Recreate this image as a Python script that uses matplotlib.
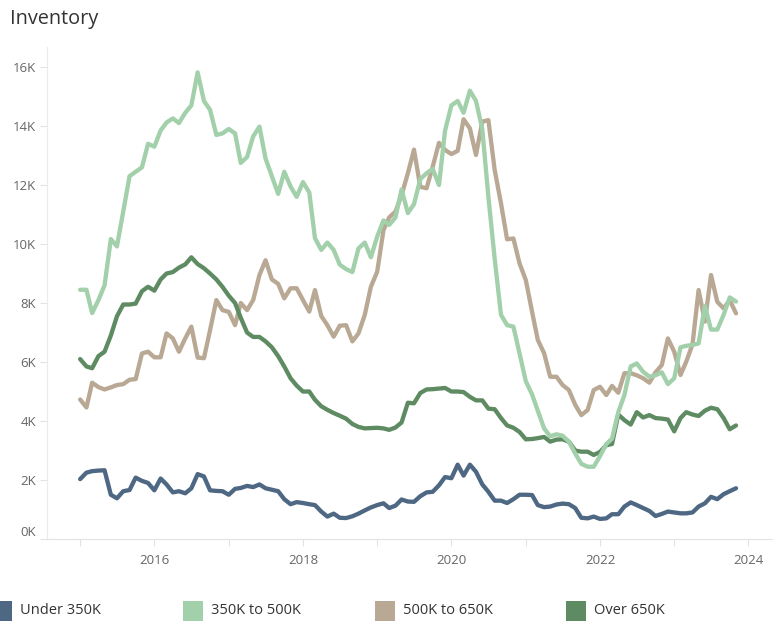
import numpy as np
import pandas as pd
import matplotlib
matplotlib.use("Agg")
import matplotlib.pyplot as plt
import matplotlib.dates as mdates
from matplotlib.patches import Rectangle
from matplotlib.ticker import FuncFormatter

plt.rcParams["font.family"] = ["Open Sans", "DejaVu Sans"]

# monthly inventory, Jan 2015 .. Nov 2023 (thousands)
months = pd.date_range("2015-01-01", periods=107, freq="MS")

under_350 = [
    2.03, 2.25, 2.30, 2.32, 2.33, 1.50, 1.38, 1.62, 1.66, 2.08,
    1.97, 1.90, 1.65, 2.05, 1.85, 1.58, 1.62, 1.55, 1.72, 2.20,
    2.12, 1.65, 1.63, 1.62, 1.50, 1.70, 1.73, 1.80, 1.76, 1.85,
    1.72, 1.67, 1.62, 1.35, 1.18, 1.25, 1.22, 1.18, 1.15, 0.93,
    0.76, 0.86, 0.72, 0.71, 0.77, 0.86, 0.97, 1.07, 1.15, 1.21,
    1.05, 1.13, 1.34, 1.27, 1.26, 1.45, 1.58, 1.60, 1.82, 2.10,
    2.06, 2.52, 2.15, 2.52, 2.28, 1.85, 1.60, 1.30, 1.30, 1.22,
    1.35, 1.50, 1.50, 1.49, 1.15, 1.08, 1.10, 1.17, 1.20, 1.18,
    1.05, 0.72, 0.70, 0.76, 0.68, 0.70, 0.84, 0.84, 1.10, 1.24,
    1.15, 1.05, 0.95, 0.78, 0.85, 0.93, 0.90, 0.87, 0.87, 0.90,
    1.10, 1.21, 1.43, 1.35, 1.52, 1.62, 1.72,
]
k350_500 = [
    8.45, 8.45, 7.66, 8.10, 8.60, 10.17, 9.92, 11.10, 12.30, 12.45,
    12.60, 13.40, 13.30, 13.85, 14.12, 14.26, 14.10, 14.45, 14.70, 15.82,
    14.85, 14.55, 13.70, 13.75, 13.90, 13.75, 12.75, 12.95, 13.65, 13.98,
    12.90, 12.30, 11.70, 12.45, 11.95, 11.60, 12.10, 11.75, 10.20, 9.80,
    10.05, 9.80, 9.30, 9.15, 9.05, 9.85, 10.05, 9.55, 10.25, 10.80,
    10.65, 10.90, 11.85, 11.05, 11.35, 12.20, 12.40, 12.55, 12.00, 13.85,
    14.70, 14.85, 14.45, 15.20, 14.85, 13.90, 11.60, 9.50, 7.60, 7.25,
    7.20, 6.30, 5.35, 4.90, 4.35, 3.75, 3.48, 3.55, 3.50, 3.30,
    2.90, 2.55, 2.45, 2.45, 2.81, 3.22, 3.40, 4.30, 4.88, 5.85,
    5.95, 5.67, 5.50, 5.55, 5.65, 5.25, 5.45, 6.50, 6.55, 6.58,
    6.63, 7.90, 7.10, 7.10, 7.60, 8.19, 8.05,
]
k500_650 = [
    4.73, 4.46, 5.30, 5.15, 5.07, 5.14, 5.22, 5.25, 5.40, 5.42,
    6.29, 6.35, 6.16, 6.16, 6.97, 6.80, 6.35, 6.80, 7.20, 6.15,
    6.13, 7.08, 8.10, 7.76, 7.70, 7.25, 8.00, 7.76, 8.10, 8.95,
    9.45, 8.80, 8.65, 8.16, 8.50, 8.50, 8.10, 7.71, 8.44, 7.56,
    7.25, 6.86, 7.23, 7.25, 6.70, 6.97, 7.60, 8.55, 9.06, 10.47,
    10.90, 11.10, 11.66, 12.40, 13.20, 11.94, 11.89, 12.62, 13.43, 13.19,
    13.05, 13.16, 14.23, 13.92, 13.02, 14.15, 14.20, 12.51, 11.38, 10.16,
    10.19, 9.35, 8.78, 7.70, 6.75, 6.30, 5.50, 5.50, 5.22, 5.05,
    4.55, 4.20, 4.37, 5.05, 5.16, 4.88, 5.19, 4.96, 5.62, 5.62,
    5.55, 5.45, 5.30, 5.65, 5.90, 6.80, 6.35, 5.56, 6.01, 6.60,
    8.44, 7.37, 8.95, 8.04, 7.82, 8.10, 7.65,
]
over_650 = [
    6.10, 5.85, 5.79, 6.20, 6.35, 6.90, 7.55, 7.95, 7.95, 7.98,
    8.40, 8.55, 8.42, 8.80, 9.00, 9.05, 9.20, 9.31, 9.55, 9.32,
    9.18, 9.00, 8.80, 8.55, 8.25, 8.00, 7.50, 7.00, 6.85, 6.85,
    6.70, 6.50, 6.20, 5.85, 5.45, 5.20, 5.00, 5.00, 4.72, 4.50,
    4.38, 4.27, 4.18, 4.08, 3.90, 3.80, 3.75, 3.76, 3.77, 3.75,
    3.70, 3.78, 3.95, 4.62, 4.60, 4.95, 5.07, 5.08, 5.10, 5.12,
    5.00, 5.00, 4.98, 4.82, 4.70, 4.70, 4.42, 4.40, 4.10, 3.85,
    3.77, 3.63, 3.38, 3.39, 3.42, 3.46, 3.30, 3.37, 3.38, 3.30,
    3.00, 2.96, 2.96, 2.85, 2.95, 3.18, 3.22, 4.22, 4.03, 3.88,
    4.30, 4.12, 4.20, 4.10, 4.08, 4.05, 3.65, 4.10, 4.30, 4.22,
    4.17, 4.35, 4.45, 4.40, 4.10, 3.72, 3.85,
]

series_names = ["Under 350K", "350K to 500K", "500K to 650K", "Over 650K"]
series_colors = ["#4e6884", "#a2d0aa", "#b9a893", "#5f8b63"]
series_data = [under_350, k350_500, k500_650, over_650]

W, H = 775, 624
fig = plt.figure(figsize=(W / 100, H / 100), dpi=100, facecolor="white")
ax = fig.add_axes([47 / W, 1 - 539 / H, (772 - 47) / W, (539 - 47) / H])

# drawing order: back to front as in the reference
for idx in [0, 2, 3, 1]:
    ax.plot(months, np.array(series_data[idx]) * 1000, color=series_colors[idx],
            lw=3.1, solid_joinstyle="round", solid_capstyle="round")

ax.set_ylim(0, 16680)
ax.set_xlim(pd.Timestamp("2014-07-22"), pd.Timestamp("2024-04-26"))
ax.set_yticks(range(0, 16001, 2000))
ax.yaxis.set_major_formatter(FuncFormatter(lambda v, p: f"{int(v / 1000)}K"))

ax.xaxis.set_major_locator(mdates.YearLocator(1))
ax.xaxis.set_major_formatter(
    FuncFormatter(lambda v, p: str(mdates.num2date(v).year) if mdates.num2date(v).year % 2 == 0 else ""))

for s in ["top", "right"]:
    ax.spines[s].set_visible(False)
ax.spines["left"].set_color("#ebebeb")
ax.spines["left"].set_linewidth(0.8)
ax.spines["bottom"].set_color("#e3e3e3")
ax.spines["bottom"].set_linewidth(0.8)
ax.spines["bottom"].set_linestyle((0, (1, 1)))
ax.tick_params(axis="both", colors="#e3e3e3", labelcolor="#666666",
               labelsize=9.5, length=5, width=0.8)
ax.tick_params(axis="x", pad=6)
ax.tick_params(axis="y", pad=3)
ax.set_facecolor("white")
ylabels = ax.get_yticklabels()
ylabels[0].set_va("bottom")

fig.text(10 / W, 1 - 19 / H, "Inventory", fontsize=14.3, color="#333333",
         va="center", ha="left")

# legend along the bottom
leg_x = [-8, 183, 375, 566]
for x0, name, col in zip(leg_x, series_names, series_colors):
    fig.add_artist(Rectangle((x0 / W, 1 - 621 / H), 20 / W, 20 / H,
                             transform=fig.transFigure, color=col, lw=0))
    fig.text((x0 + 28) / W, 1 - 611 / H, name, fontsize=10.5, color="#333333",
             va="center", ha="left")

fig.savefig("out.png", dpi=100, facecolor="white")
